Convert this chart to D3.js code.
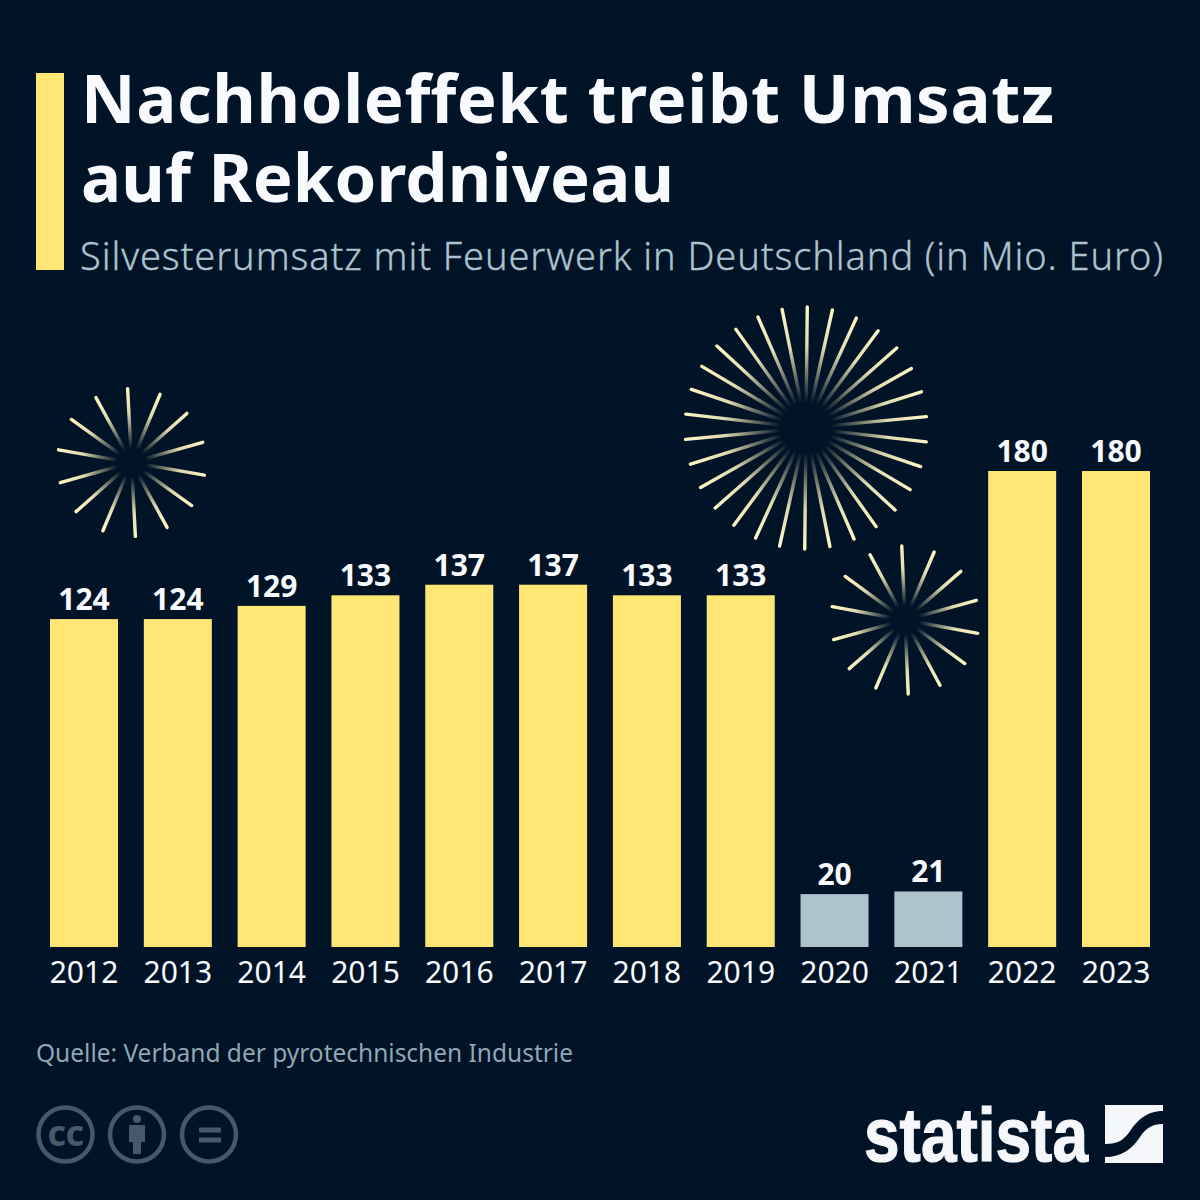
<!DOCTYPE html>
<html><head><meta charset="utf-8">
<script src="https://cdn.jsdelivr.net/npm/d3@7/dist/d3.min.js"></script>
<style>html,body{margin:0;padding:0;background:#001327}svg{display:block}text{font-family:"Noto Sans",sans-serif}</style>
</head><body><svg id="c" width="1200" height="1200"></svg>
<script>
const years=["2012","2013","2014","2015","2016","2017","2018","2019","2020","2021","2022","2023"];
const revenue=[124,124,129,133,137,137,133,133,20,21,180,180];
const muted=["2020","2021"];
const titleLines=["Nachholeffekt treibt Umsatz","auf Rekordniveau"];
const titleWidths=[973,593];
const subtitle="Silvesterumsatz mit Feuerwerk in Deutschland (in Mio. Euro)";
const source="Quelle: Verband der pyrotechnischen Industrie";
const burstX=[131.5,806,905], burstY=[462.5,428,620], burstOuter=[74,121,74], burstRays=[14,30,14], burstStart=[-3,0.6,-2.5];

const svg=d3.select("#c");
const bg="#001327",yellow="#ffe674",blue="#adc4cf",white="#f8fafd";
svg.append("rect").attr("width",1200).attr("height",1200).attr("fill",bg);
svg.append("rect").attr("x",36).attr("y",73).attr("width",28).attr("height",197).attr("fill",yellow);
svg.selectAll(".t").data(titleLines).join("text").attr("class","t").attr("x",81).attr("y",(d,i)=>123+i*79)
 .attr("font-size",67).attr("font-weight",700).attr("fill",white).attr("textLength",(d,i)=>titleWidths[i]).text(d=>d);
svg.append("text").attr("x",80).attr("y",270).attr("font-size",38).attr("font-weight",300).attr("fill",blue).attr("stroke",blue).attr("stroke-width",0.3).attr("textLength",1083).text(subtitle);

const x=d3.scaleBand().domain(years).range([37.1,1162.9]).paddingInner(0.275).paddingOuter(0.1375);
const y=d3.scaleLinear().domain([0,180]).range([947,471]);
svg.selectAll(".b").data(years).join("rect").attr("class","b").attr("x",d=>x(d)).attr("width",x.bandwidth())
 .attr("y",(d,i)=>y(revenue[i])).attr("height",(d,i)=>y(0)-y(revenue[i])).attr("fill",d=>muted.includes(d)?blue:yellow);
svg.selectAll(".v").data(years).join("text").attr("class","v").attr("x",d=>x(d)+x.bandwidth()/2).attr("y",(d,i)=>y(revenue[i])-9)
 .attr("text-anchor","middle").attr("font-size",30).attr("font-weight",700).attr("fill",white).text((d,i)=>revenue[i]);
const ax=svg.append("g").attr("transform",`translate(0,${y(0)})`).call(d3.axisBottom(x).tickSize(0).tickPadding(15));
ax.select(".domain").remove();
ax.selectAll("text").attr("font-size",30).attr("fill",white).style("font-family",'"Noto Sans",sans-serif');

const defs=svg.append("defs");
burstX.forEach((cx,b)=>{
  const g=svg.append("g"),n=burstRays[b],R=burstOuter[b],r0=b==1?25:14;
  d3.range(n).forEach(k=>{
    const a=(burstStart[b]+k*360/n)*Math.PI/180,sx=Math.sin(a),cy=-Math.cos(a);
    const x1=cx+sx*r0,y1=burstY[b]+cy*r0,x2=cx+sx*R,y2=burstY[b]+cy*R,id=`g${b}_${k}`;
    const lg=defs.append("linearGradient").attr("id",id).attr("gradientUnits","userSpaceOnUse")
      .attr("x1",x1).attr("y1",y1).attr("x2",x2).attr("y2",y2);
    lg.append("stop").attr("offset",0).attr("stop-color","#fff6c4").attr("stop-opacity",0);
    lg.append("stop").attr("offset",0.6).attr("stop-color","#fff6c4").attr("stop-opacity",0.88);
    lg.append("stop").attr("offset",1).attr("stop-color","#fff6c4").attr("stop-opacity",1);
    g.append("path").attr("d",`M${x1},${y1}L${x2},${y2}`).attr("stroke",`url(#${id})`).attr("stroke-width",3.4).attr("stroke-linecap","round").attr("fill","none");
  });
});

svg.append("text").attr("x",36).attr("y",1062).attr("font-size",24.5).attr("fill",blue).attr("fill-opacity",.85).attr("textLength",537).text(source);

const ic="#45596a";
[65.5,137,209].forEach(cx=>svg.append("circle").attr("cx",cx).attr("cy",1134.5).attr("r",27).attr("fill","none").attr("stroke",ic).attr("stroke-width",4.5));
svg.append("text").attr("x",65.5).attr("y",1146).attr("text-anchor","middle").attr("font-size",36).attr("font-weight",700).attr("fill",ic).attr("letter-spacing",-0.5).text("cc");
svg.append("circle").attr("cx",137).attr("cy",1119).attr("r",4).attr("fill",ic);
svg.append("path").attr("d","M129,1125H145V1142H141V1154H133V1142H129Z").attr("fill",ic);
svg.append("path").attr("d","M199,1127.5H221V1132.5H199ZM199,1137.5H221V1142.5H199Z").attr("fill",ic);

svg.append("text").attr("x",864).attr("y",1161).attr("font-size",76).attr("font-weight",700).attr("fill","#f5f7fa").attr("stroke","#f5f7fa").attr("stroke-width",1.2)
 .style("font-family",'"Liberation Sans Narrow","Liberation Sans",sans-serif').attr("textLength",224).attr("lengthAdjust","spacingAndGlyphs").text("statista");
svg.append("path").attr("fill","#f5f7fa").attr("d","M1105,1105H1163V1111C1146,1111 1137,1121 1130,1131C1124,1140 1118,1144 1105,1144Z");
svg.append("path").attr("fill","#f5f7fa").attr("d","M1163,1124V1163H1105V1157C1122,1157 1132,1149 1140,1137C1146,1128 1152,1124 1163,1124Z");
</script></body></html>
